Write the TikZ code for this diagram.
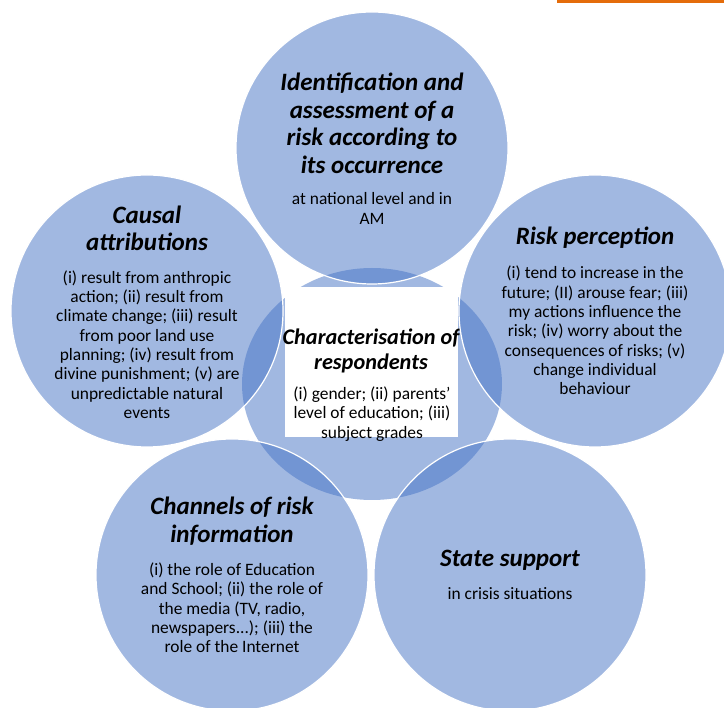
\documentclass[tikz,border=0pt]{standalone}
\usepackage{fontspec}
\setmainfont{Carlito}
\usetikzlibrary{shapes.geometric}
\definecolor{bubblefill}{HTML}{4472C4}
\definecolor{edgeline}{HTML}{E46C0A}
\newcommand{\headfont}{\fontsize{25}{27.5}\selectfont\bfseries\itshape}
\newcommand{\coreheadfont}{\fontsize{22.3}{25}\selectfont\bfseries\itshape}
\newcommand{\blurbfont}{\fontsize{17.4}{19.3}\selectfont}
\begin{document}
\begin{tikzpicture}[x=1pt,y=-1pt,
        bubble/.style={circle,minimum size=272pt,inner sep=0pt,fill=bubblefill,fill opacity=0.5,draw=white,line width=1.2pt},
        head/.style={align=center,inner sep=0pt,font=\headfont},
        blurb/.style={align=center,inner sep=0pt,font=\blurbfont}]
        \useasboundingbox (0,0) rectangle (724,708);
        \fill[edgeline] (557,0) rectangle (724,3);
        \node[ellipse,minimum width=260pt,minimum height=232pt,inner sep=0pt,fill=bubblefill,fill opacity=0.5] (core) at (372,384) {};
        \node[fill=white,minimum width=173pt,minimum height=150pt,inner sep=0pt,anchor=north west] (corebox) at (285,287) {};
        \node[head,font=\coreheadfont] (corehead) at (371,350.5) {Characterisation of\\respondents};
        \node[blurb] (coretext) at (372,414) {(i) gender; (ii) parents'\\level of education; (iii)\\subject grades};
        \node[bubble] (ident) at (372,148) {};
        \node[bubble] (causal) at (147,311) {};
        \node[bubble] (percep) at (595,311) {};
        \node[bubble] (channels) at (232,575) {};
        \node[bubble] (state) at (510,575) {};
        \node[head] (identhead) at (372,123.5) {Identification and\\assessment of a\\risk according to\\its occurrence};
        \node[blurb] (identtext) at (372,208.5) {at national level and in\\AM};
        \node[head] (causalhead) at (147,228.5) {Causal\\attributions};
        \node[blurb] (causaltext) at (147,344.5) {(i) result from anthropic\\action; (ii) result from\\climate change; (iii) result\\from poor land use\\planning; (iv) result from\\divine punishment; (v) are\\unpredictable natural\\events};
        \node[head] (percephead) at (595,238) {Risk perception};
        \node[blurb] (perceptext) at (595,330.5) {(i) tend to increase in the\\future; (II) arouse fear; (iii)\\my actions influence the\\risk; (iv) worry about the\\consequences of risks; (v)\\change individual\\behaviour};
        \node[head] (channelshead) at (232,521) {Channels of risk\\information};
        \node[blurb] (channelstext) at (232,608) {(i) the role of Education\\and School; (ii) the role of\\the media (TV, radio,\\newspapers...); (iii) the\\role of the Internet};
        \node[head] (statehead) at (510,560) {State support};
        \node[blurb] (statetext) at (510,594) {in crisis situations};
    \end{tikzpicture}
\end{document}
